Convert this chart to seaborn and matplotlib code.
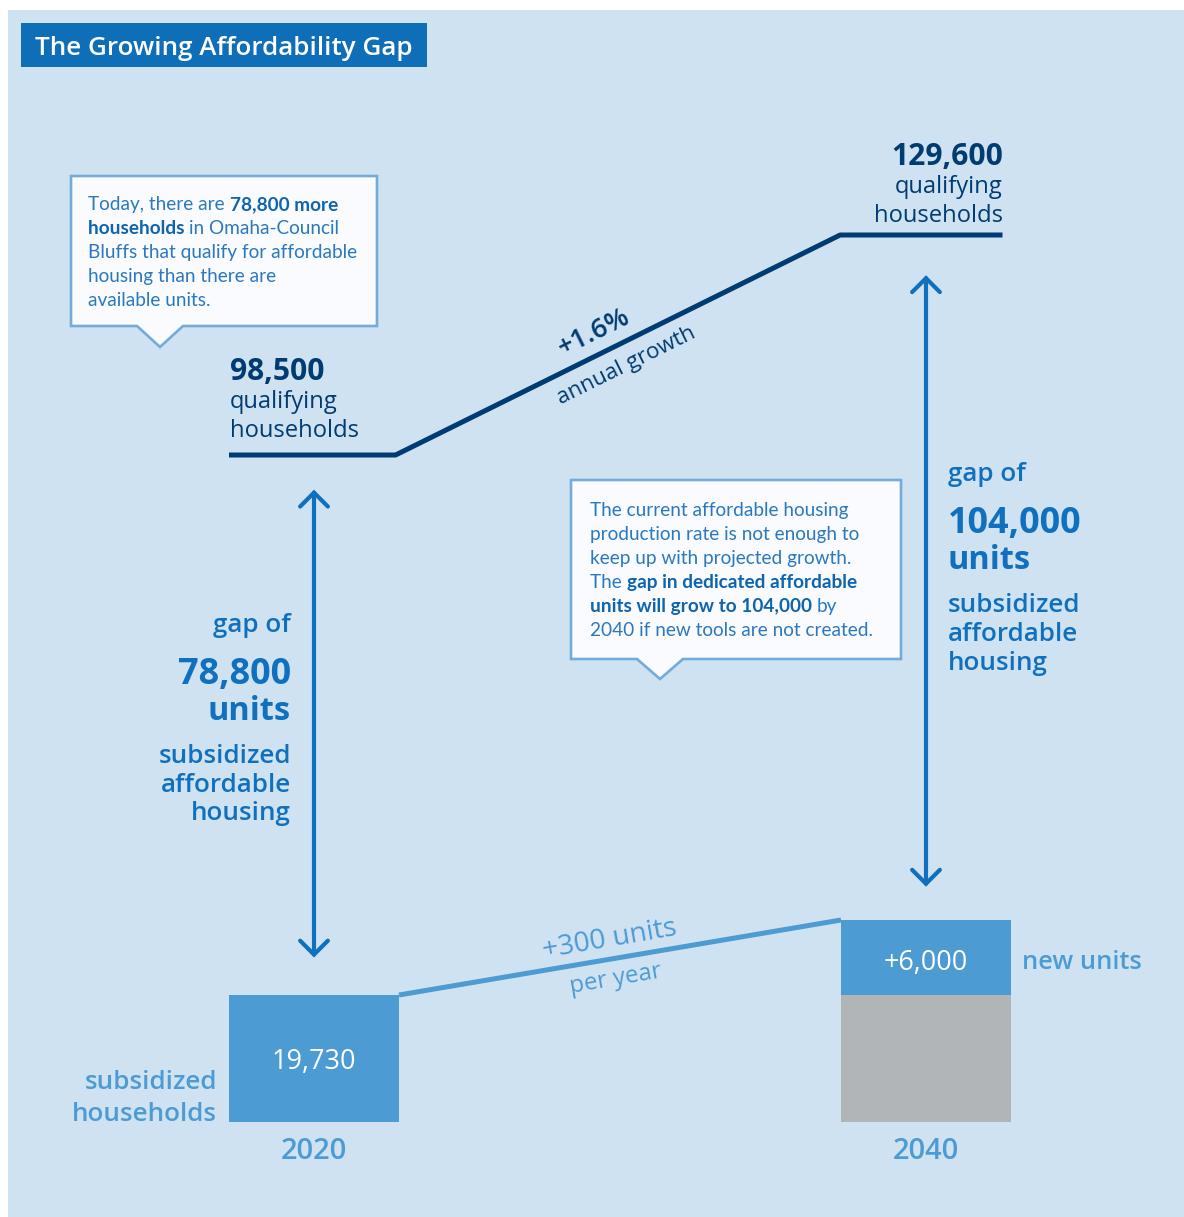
import numpy as np
import pandas as pd
import matplotlib
matplotlib.use("Agg")
import matplotlib.pyplot as plt
import seaborn as sns
from matplotlib.patches import Rectangle, Polygon

# ---------------- data ----------------
years = [2020, 2040]
qualifying_households = [98500, 129600]
subsidized_existing = [19730, 19730]
new_units = [0, 6000]
gap_units = [78800, 104000]
growth_rate_label = "+1.6%"
production_label = "+300 units"

# ---------------- style ----------------
W, H = 1184, 1217
PANEL = "#cee2f1"
TITLEBOX = "#0f6eb8"
NAVY = "#003b71"
GAPBLUE = "#1170bd"
LBLUE = "#4d9bd3"
GRAY = "#b1b5b8"
CALL_EDGE = "#74abd9"
CALL_FACE = "#f9fbfe"
CALL_TXT = "#2a78bf"
CALL_BOLD = "#0e64ad"

sns.set_theme(style="white")
MAIN = ["Open Sans", "DejaVu Sans"]
CALLF = ["Lato", "DejaVu Sans"]
plt.rcParams["font.family"] = MAIN

fig = plt.figure(figsize=(W / 100, H / 100), dpi=100)
fig.patch.set_facecolor("white")


def P(x, y):
    return (x / W, 1 - y / H)


# background panel
fig.patches.append(Rectangle(P(8, 1217), (1184 - 8) / W, (1217 - 10) / H,
                             transform=fig.transFigure, facecolor=PANEL,
                             edgecolor="none", zorder=-5))

# ---------------- axes with piecewise scale ----------------
total_units = [s + n for s, n in zip(subsidized_existing, new_units)]
knot_v = [0, total_units[0], total_units[1], qualifying_households[0], qualifying_households[1]]
knot_h = [0, 127, 202, 667, 887]
lo_slope = knot_h[1] / knot_v[1]
hi_slope = (knot_h[4] - knot_h[3]) / (knot_v[4] - knot_v[3])
kv = np.array([-1e6] + knot_v + [1e6], dtype=float)
kh = np.array([-1e6 * lo_slope] + knot_h + [knot_h[-1] + (1e6 - knot_v[-1]) * hi_slope], dtype=float)


def fwd(v):
    return np.interp(v, kv, kh)


def inv(h):
    return np.interp(h, kh, kv)


ax = fig.add_axes([0, 0, 1, 1])
ax.set_facecolor("none")
ax.set_yscale("function", functions=(fwd, inv))

bw = 170 / 30.6  # bar width in years
hw = bw / 2

df_tot = pd.DataFrame({"year": years, "units": total_units})
sns.barplot(data=df_tot, x="year", y="units", native_scale=True, color=LBLUE,
            saturation=1, errorbar=None, linewidth=0, ax=ax)
df_exist = pd.DataFrame({"year": [y for y, n in zip(years, new_units) if n > 0],
                         "units": [s for s, n in zip(subsidized_existing, new_units) if n > 0]})
sns.barplot(data=df_exist, x="year", y="units", native_scale=True, color=GRAY,
            saturation=1, errorbar=None, linewidth=0, ax=ax)
for p in ax.patches:
    cx = p.get_x() + p.get_width() / 2
    p.set_width(bw)
    p.set_x(cx - bw / 2)

# qualifying households line
df_q = pd.DataFrame({"x": [years[0] - hw, years[0] + hw * 0.96, years[1] - hw * 1.01, years[1] + hw * 0.9],
                     "y": [qualifying_households[0], qualifying_households[0],
                           qualifying_households[1], qualifying_households[1]]})
sns.lineplot(data=df_q, x="x", y="y", sort=False, estimator=None, color=NAVY, lw=3.6, ax=ax)
ax.lines[-1].set_solid_capstyle("butt")

# subsidized production line
df_u = pd.DataFrame({"x": [years[0] + hw, years[1] - hw], "y": total_units})
sns.lineplot(data=df_u, x="x", y="y", sort=False, estimator=None, color=LBLUE, lw=3.6, ax=ax)
ax.lines[-1].set_solid_capstyle("butt")

# gap arrows
for yr, q, t, sa, sb in zip(years, qualifying_households, total_units, [25, 29], [27, 24]):
    ax.annotate("", xy=(yr, t), xytext=(yr, q),
                arrowprops=dict(arrowstyle="<->,head_length=0.5,head_width=0.5",
                                mutation_scale=20, lw=3.0, color=GAPBLUE,
                                shrinkA=sa, shrinkB=sb, joinstyle="miter"))

ax.set_xlim(2020 - 314 / 30.6, 2020 + (1184 - 314) / 30.6)
ax.set_ylim(inv(-95), inv(1122))
ax.set_axis_off()


# ---------------- text helpers ----------------
def T(x, y, s, px, color, weight="normal", ha="left", va="baseline", family=None, rot=0, **kw):
    return fig.text(x / W, 1 - y / H, s, fontsize=px * 0.72, color=color, fontweight=weight,
                    ha=ha, va=va, rotation=rot, rotation_mode="anchor",
                    family=family or MAIN, **kw)


renderer = fig.canvas.get_renderer()


def rich(x, y, pieces, px, family=CALLF):
    for s, bold in pieces:
        t = T(x, y, s, px, CALL_BOLD if bold else CALL_TXT,
              weight="bold" if bold else "normal", family=family)
        bb = t.get_window_extent(renderer)
        x += bb.width


# title
fig.patches.append(Rectangle(P(21, 67), (427 - 21) / W, (67 - 23) / H, transform=fig.transFigure,
                             facecolor=TITLEBOX, edgecolor="none", zorder=1))
T(35, 55, "The Growing Affordability Gap", 26, "white", weight="semibold")

# callout boxes
def callout(x0, y0, x1, y1, tipx, tipy, half=23):
    pts = [P(x0, y0), P(x1, y0), P(x1, y1), P(tipx + half, y1), P(tipx, tipy),
           P(tipx - half, y1), P(x0, y1)]
    fig.patches.append(Polygon(pts, closed=True, transform=fig.transFigure,
                               facecolor=CALL_FACE, edgecolor=CALL_EDGE, lw=1.9, zorder=2,
                               joinstyle="miter"))


callout(71, 176, 377, 326, 160, 347)
callout(571, 480, 901, 659, 660, 679)

CP = 19
rich(88, 210, [("Today, there are ", False), (f"{gap_units[0]:,} more", True)], CP)
rich(88, 234, [("households ", True), ("in Omaha-Council", False)], CP)
rich(88, 258, [("Bluffs that qualify for affordable", False)], CP)
rich(88, 282, [("housing than there are", False)], CP)
rich(88, 306, [("available units.", False)], CP)

rich(590, 516, [("The current affordable housing", False)], CP)
rich(590, 540, [("production rate is not enough to", False)], CP)
rich(590, 564, [("keep up with projected growth.", False)], CP)
rich(590, 588, [("The ", False), ("gap in dedicated affordable", True)], CP)
rich(590, 612, [(f"units will grow to {gap_units[1]:,} ", True), ("by", False)], CP)
rich(590, 636, [(f"{years[1]} if new tools are not created.", False)], CP)

# qualifying households labels
T(230, 380, f"{qualifying_households[0]:,}", 30, NAVY, weight="bold")
T(230, 408, "qualifying", 23.7, NAVY)
T(230, 437, "households", 23.7, NAVY)
T(1003, 165, f"{qualifying_households[1]:,}", 30, NAVY, weight="bold", ha="right")
T(1003, 193, "qualifying", 23.7, NAVY, ha="right")
T(1003, 222, "households", 23.7, NAVY, ha="right")

# growth label
T(594, 333, growth_rate_label, 27, NAVY, weight="semibold", ha="center", va="center", rot=26.4)
T(626, 366, "annual growth", 22.5, NAVY, ha="center", va="center", rot=26.4)

# gap labels left
T(291, 632, "gap of", 26, GAPBLUE, weight="semibold", ha="right")
T(291, 684, f"{gap_units[0]:,}", 36, GAPBLUE, weight="bold", ha="right")
T(291, 720, "units", 32.5, GAPBLUE, weight="bold", ha="right")
T(291, 763, "subsidized", 26, GAPBLUE, weight="semibold", ha="right")
T(291, 792, "affordable", 26, GAPBLUE, weight="semibold", ha="right")
T(291, 820, "housing", 26, GAPBLUE, weight="semibold", ha="right")

# gap labels right
T(948, 481, "gap of", 26, GAPBLUE, weight="semibold")
T(948, 533, f"{gap_units[1]:,}", 36, GAPBLUE, weight="bold")
T(948, 569, "units", 32.5, GAPBLUE, weight="bold")
T(948, 612, "subsidized", 26, GAPBLUE, weight="semibold")
T(948, 641, "affordable", 26, GAPBLUE, weight="semibold")
T(948, 670, "housing", 26, GAPBLUE, weight="semibold")

# bars labels
T(314, 1069, f"{subsidized_existing[0]:,}", 27, "white", ha="center")
T(926, 970, f"+{new_units[1]:,}", 27, "white", ha="center")
T(1022, 969, "new units", 25.5, LBLUE, weight="semibold")
T(217, 1089, "subsidized", 26, LBLUE, weight="semibold", ha="right")
T(217, 1121, "households", 26, LBLUE, weight="semibold", ha="right")
T(314, 1159, str(years[0]), 29, LBLUE, weight="semibold", ha="center")
T(926, 1159, str(years[1]), 29, LBLUE, weight="semibold", ha="center")

# production label
T(610, 940, production_label, 28, LBLUE, ha="center", va="center", rot=9.8)
T(616, 979, "per year", 24, LBLUE, ha="center", va="center", rot=9.8)

fig.savefig("out.png", dpi=100, facecolor="white")
